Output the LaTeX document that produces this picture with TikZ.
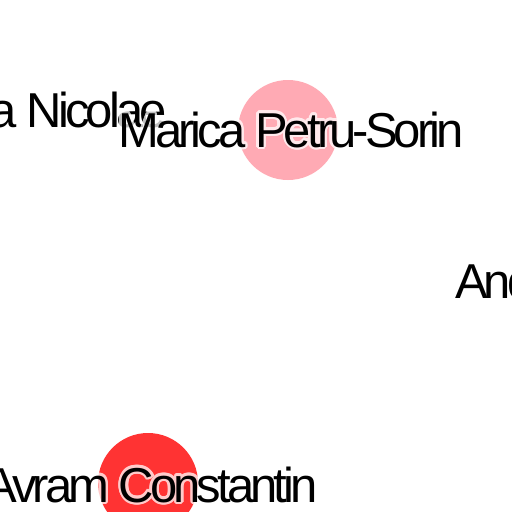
\documentclass[tikz,border=0pt]{standalone}
\usepackage{fontspec}
\setmainfont{Liberation Sans}[LetterSpace=-8]
\usetikzlibrary{calc}
\definecolor{pinkc}{RGB}{255,170,180}
\definecolor{redc}{RGB}{255,51,51}
\tikzset{lbl/.style={font=\fontsize{49}{49}\selectfont, inner sep=0pt, text=black}}
\newcommand\lblnode[4]{%
  \begin{scope}[transparency group, opacity=0.75]
    \foreach \a in {0,22.5,...,337.5}{\node[lbl,text=white,anchor=#2] at ($(#3)+(\a:2.5)$) {#4};}
  \end{scope}
  \node[lbl,anchor=#2] (#1) at (#3) {#4};}
\begin{document}
\begin{tikzpicture}[x=1pt,y=-1pt]
\useasboundingbox (0,0) rectangle (512,512);
\clip (0,0) rectangle (512,512);
\fill[white] (0,0) rectangle (512,512);
\fill[pinkc] (288,130) circle (50);
\fill[redc] (148,483) circle (50);
\coordinate (p1) at (167,127);
\coordinate (p2) at (291,147);
\coordinate (p3) at (455,298);
\coordinate (p4) at (151,502);
\lblnode{n1}{base east}{p1}{a Nicolae}
\lblnode{n2}{base}{p2}{Marica Petru-Sorin}
\lblnode{n3}{base west}{p3}{And}
\lblnode{n4}{base}{p4}{Avram Constantin}
\end{tikzpicture}
\end{document}
